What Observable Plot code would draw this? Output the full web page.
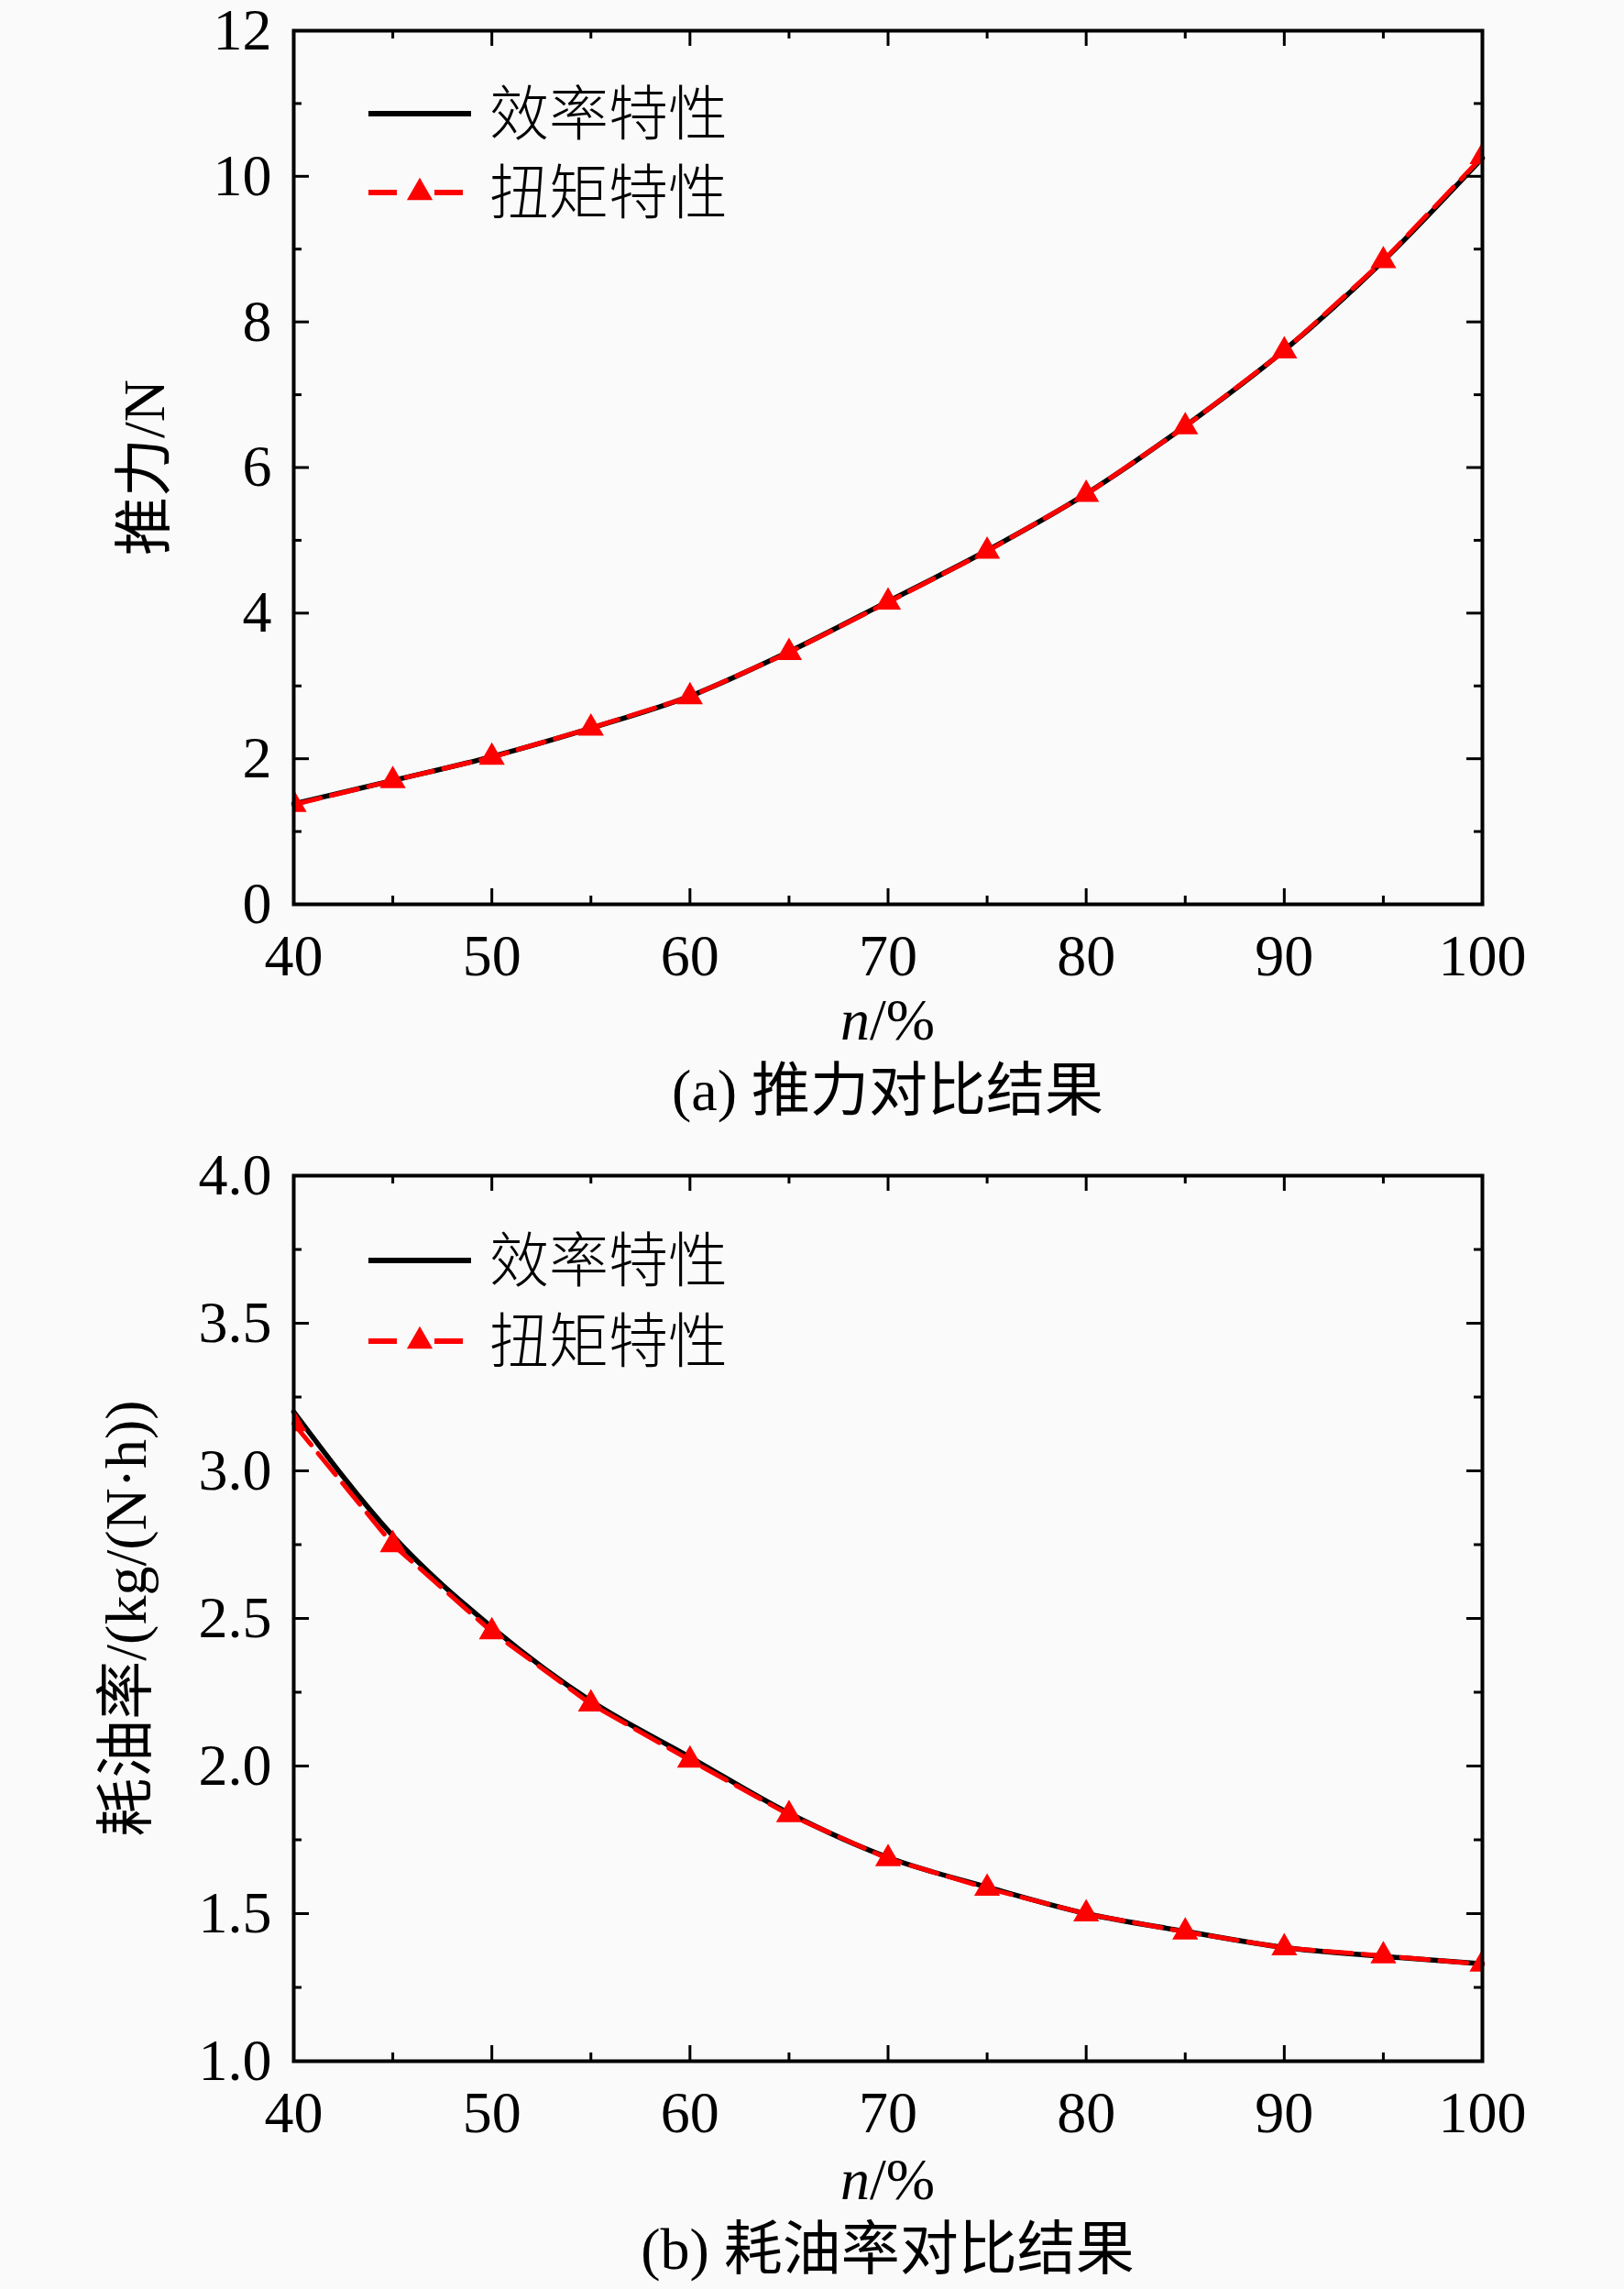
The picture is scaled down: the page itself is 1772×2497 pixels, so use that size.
<!DOCTYPE html>
<html>
<head>
<meta charset="utf-8">
<script src="https://cdn.jsdelivr.net/npm/d3@7"></script>
<script src="https://cdn.jsdelivr.net/npm/@observablehq/plot@0.6"></script>
<style>
  html, body { margin: 0; padding: 0; background: #fafafa; }
  #page { position: relative; width: 1772px; height: 2497px; background: #fafafa; overflow: hidden; }
  .panel { position: absolute; left: 0; }
  .txt { position: absolute; white-space: nowrap; transform: translateX(-50%);
         font-family: 'Liberation Serif', 'Noto Sans CJK SC', serif; font-size: 64px; line-height: 64px; color: #000; }
  .legend { position: absolute; left: 0; top: 0; overflow: visible; }
</style>
</head>
<body>
<div id="page"></div>
<script>
// ---------------- data ----------------
const nPct = [40, 45, 50, 55, 60, 65, 70, 75, 80, 85, 90, 95, 100];
const thrustEfficiency = [1.38, 1.70, 2.03, 2.42, 2.86, 3.47, 4.16, 4.86, 5.64, 6.57, 7.61, 8.84, 10.25];
const thrustTorque     = [1.37, 1.70, 2.02, 2.42, 2.85, 3.46, 4.15, 4.85, 5.63, 6.56, 7.60, 8.84, 10.27];
const sfcEfficiency = [3.20, 2.78, 2.47, 2.22, 2.03, 1.84, 1.69, 1.59, 1.50, 1.44, 1.385, 1.355, 1.33];
const sfcTorque     = [3.16, 2.75, 2.455, 2.21, 2.02, 1.835, 1.686, 1.586, 1.499, 1.438, 1.384, 1.357, 1.329];

const xMajorTicks = [40, 50, 60, 70, 80, 90, 100];
const xMinorTicks = [45, 55, 65, 75, 85, 95];
const thrustMajorTicks = [0, 2, 4, 6, 8, 10, 12];
const thrustMinorTicks = [1, 3, 5, 7, 9, 11];
const sfcMajorTicks = [1.0, 1.5, 2.0, 2.5, 3.0, 3.5, 4.0];
const sfcMinorTicks = [1.25, 1.75, 2.25, 2.75, 3.25, 3.75];

const seriesNames = ["效率特性", "扭矩特性"];
const yLabels = ["推力/N", "耗油率/(kg/(N·h))"];
const captions = ["(a) 推力对比结果", "(b) 耗油率对比结果"];
const xLabelVar = "n";
const xLabelUnit = "/%";

// ---------------- layout ----------------
const W = 1772, ML = 320, MR = 155;
const FONT = "'Liberation Serif', 'Noto Sans CJK SC', serif";
const page = document.getElementById("page");

function panel({top, height, marginTop, marginBottom, yDomain, yMajor, yMinor, yFormat, eff, torque, yLabel, labelDx}) {
  const data = nPct.map((n, i) => ({n, eff: eff[i], torque: torque[i]}));
  const fh = height - marginTop - marginBottom;
  const fw = W - ML - MR;
  const major = 17, minor = 9;
  const chart = Plot.plot({
    width: W, height, marginLeft: ML, marginRight: MR, marginTop, marginBottom,
    x: {domain: [40, 100]},
    y: {domain: yDomain},
    style: {fontFamily: FONT, background: "transparent", color: "#000", overflow: "visible"},
    marks: [
      Plot.line(data, {x: "n", y: "eff", stroke: "#000", strokeWidth: 5.5, curve: "monotone-x"}),
      Plot.line(data, {x: "n", y: "torque", stroke: "#ff0000", strokeWidth: 5, strokeDasharray: "30,12"}),
      Plot.dot(data, {x: "n", y: "torque", symbol: "triangle", r: 10.5, fill: "#ff0000", stroke: "none", clip: true}),
      // inward ticks, bottom & top
      Plot.ruleX(xMajorTicks, {insetTop: fh - major, stroke: "#000", strokeWidth: 3}),
      Plot.ruleX(xMinorTicks, {insetTop: fh - minor, stroke: "#000", strokeWidth: 3}),
      Plot.ruleX(xMajorTicks, {insetBottom: fh - major, stroke: "#000", strokeWidth: 3}),
      Plot.ruleX(xMinorTicks, {insetBottom: fh - minor, stroke: "#000", strokeWidth: 3}),
      // inward ticks, left & right
      Plot.ruleY(yMajor, {insetRight: fw - major, stroke: "#000", strokeWidth: 3}),
      Plot.ruleY(yMinor, {insetRight: fw - minor, stroke: "#000", strokeWidth: 3}),
      Plot.ruleY(yMajor, {insetLeft: fw - major, stroke: "#000", strokeWidth: 3}),
      Plot.ruleY(yMinor, {insetLeft: fw - minor, stroke: "#000", strokeWidth: 3}),
      Plot.frame({stroke: "#000", strokeWidth: 4}),
      Plot.axisX({ticks: xMajorTicks, tickSize: 0, tickPadding: 32, fontSize: 64, tickFormat: d => String(d), label: null}),
      Plot.axisY({ticks: yMajor, tickSize: 0, tickPadding: 24, fontSize: 64, tickFormat: yFormat, label: null}),
      Plot.text([yLabel], {text: d => d, frameAnchor: "left", textAnchor: "middle", dx: labelDx, rotate: -90, fontSize: 64, fill: "#000"})
    ]
  });
  chart.classList.add("panel");
  chart.style.top = top + "px";
  page.appendChild(chart);
}

panel({top: 0, height: 1080, marginTop: 33, marginBottom: 94,
  yDomain: [0, 12], yMajor: thrustMajorTicks, yMinor: thrustMinorTicks, yFormat: d => String(d),
  eff: thrustEfficiency, torque: thrustTorque, yLabel: yLabels[0], labelDx: -162});

panel({top: 1240, height: 1090, marginTop: 42, marginBottom: 82,
  yDomain: [1, 4], yMajor: sfcMajorTicks, yMinor: sfcMinorTicks, yFormat: d3.format(".1f"),
  eff: sfcEfficiency, torque: sfcTorque, yLabel: yLabels[1], labelDx: -182});

// ---------------- x labels & captions ----------------
const cx = ML + (W - ML - MR) / 2;
function addText(html, top) {
  const d = document.createElement("div");
  d.className = "txt";
  d.style.left = cx + "px";
  d.style.top = top + "px";
  d.innerHTML = html;
  page.appendChild(d);
}
addText(`<i>${xLabelVar}</i>${xLabelUnit}`, 1081);
addText(captions[0], 1158);
addText(`<i>${xLabelVar}</i>${xLabelUnit}`, 2346);
addText(captions[1], 2422);

// ---------------- legends ----------------
const svg = d3.select(page).append("svg")
  .attr("class", "legend").attr("width", W).attr("height", 2497);
const tri = d3.symbol(d3.symbolTriangle, Math.PI * 110)();
function legend(y1, y2) {
  svg.append("line").attr("x1", 402).attr("x2", 514).attr("y1", y1).attr("y2", y1)
    .attr("stroke", "#000").attr("stroke-width", 6);
  svg.append("line").attr("x1", 402).attr("x2", 433).attr("y1", y2).attr("y2", y2)
    .attr("stroke", "#ff0000").attr("stroke-width", 6);
  svg.append("line").attr("x1", 474).attr("x2", 505).attr("y1", y2).attr("y2", y2)
    .attr("stroke", "#ff0000").attr("stroke-width", 6);
  svg.append("path").attr("d", tri).attr("transform", `translate(458,${y2})`).attr("fill", "#ff0000");
  [[y1, seriesNames[0]], [y2, seriesNames[1]]].forEach(([y, t]) => {
    svg.append("text").attr("x", 534).attr("y", y).attr("dy", "0.36em")
      .attr("font-family", "'Noto Sans CJK SC', sans-serif").attr("font-weight", 300)
      .attr("font-size", 65).attr("fill", "#000").text(t);
  });
}
legend(124, 210);
legend(1375, 1463);
</script>
</body>
</html>
